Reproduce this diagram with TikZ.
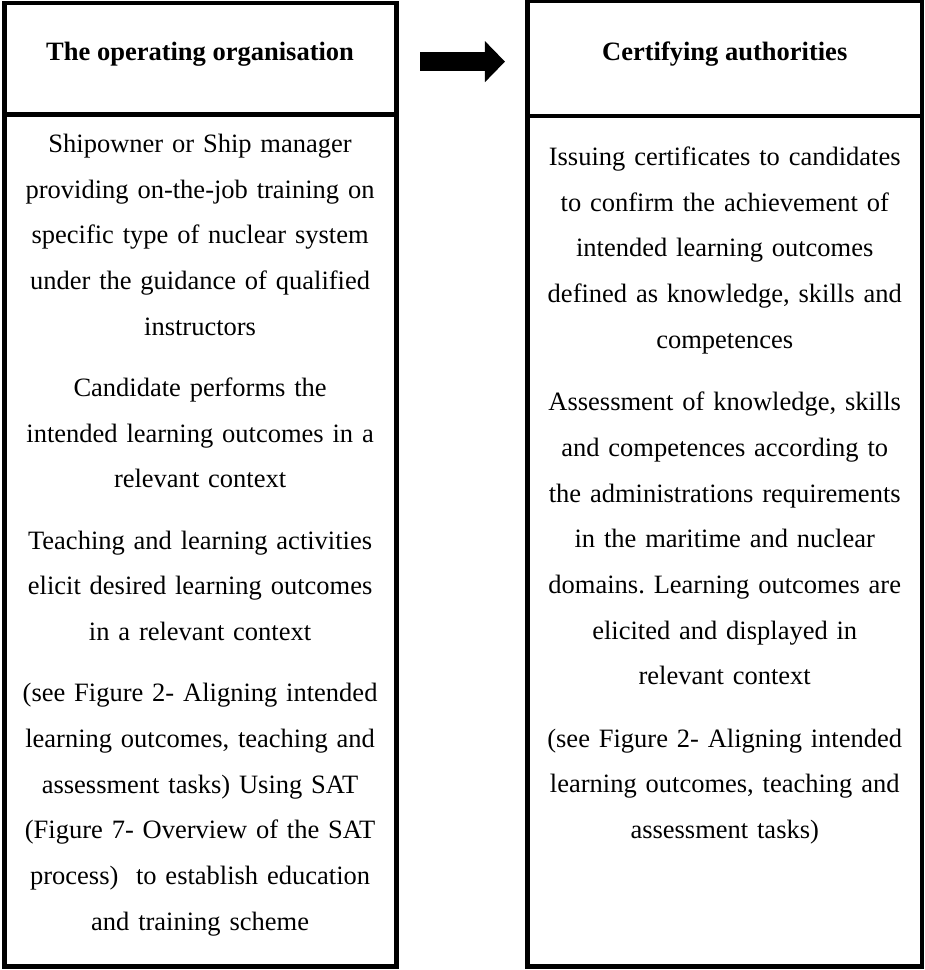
\documentclass[tikz,border=0pt]{standalone}
\usepackage{fontspec}
\setmainfont{Liberation Serif}
\frenchspacing
\usetikzlibrary{arrows.meta, positioning}

\tikzset{
	colhead/.style={draw, line width=2.2pt, outer sep=0pt, minimum width=177.5pt,
		font=\fontsize{12}{20.7}\selectfont\bfseries, text height=8pt, text depth=6.5pt},
	colbody/.style={draw, line width=2.2pt, outer sep=0pt, minimum width=177.5pt},
	coltext/.style={inner sep=0pt, text width=172pt, align=center,
		font=\fontsize{12}{20.7}\selectfont},
	blockarrow/.style={line width=8.6pt, -{Triangle[length=9.1pt,width=18.1pt]},
		shorten <=10.9pt, shorten >=10.2pt}
}

\begin{document}
\begin{tikzpicture}[node distance=0pt]
		\useasboundingbox (0,0) rectangle (418.4pt,-439.2pt);
		
		\node[colhead, minimum height=50.3pt] (opshead) at (90.6pt,-26.5pt) {The operating organisation};
		\node[colhead, minimum height=52.1pt, minimum width=178.6pt, right = 59.5pt of opshead] (certhead) {Certifying authorities};
		\node[colbody, minimum height=385.8pt, below = of opshead] (opsbody) {};
		\node[colbody, minimum height=384.9pt, minimum width=178.6pt, below = of certhead] (certbody) {};
		
		\node[coltext, below = 2.7pt of opsbody.north] (opstext) {\strut Shipowner or Ship manager\\
			providing on-the-job training on\\
			specific type of nuclear system\\
			under the guidance of qualified\\
			instructors\\[7pt]
			Candidate performs the\\
			intended learning outcomes in a\\
			relevant context\\[7pt]
			Teaching and learning activities\\
			elicit desired learning outcomes\\
			in a relevant context\\[7pt]
			(see Figure 2- Aligning intended\\
			learning outcomes, teaching and\\
			assessment tasks) Using SAT\\
			(Figure 7- Overview of the SAT\\
			process)~ to establish education\\
			and training scheme};
		\node[coltext, below = 7.7pt of certbody.north] (certtext) {\strut Issuing certificates to candidates\\
			to confirm the achievement of\\
			intended learning outcomes\\
			defined as knowledge, skills and\\
			competences\\[7.5pt]
			Assessment of knowledge, skills\\
			and competences according to\\
			the administrations requirements\\
			in the maritime and nuclear\\
			domains. Learning outcomes are\\
			elicited and displayed in\\
			relevant context\\[7.5pt]
			(see Figure 2- Aligning intended\\
			learning outcomes, teaching and\\
			assessment tasks)};
		
		\draw[blockarrow] ([yshift=-1.4pt]opshead.east) to ([yshift=-1.4pt]opshead.east -| certhead.west);
		
		\end{tikzpicture}
\end{document}
